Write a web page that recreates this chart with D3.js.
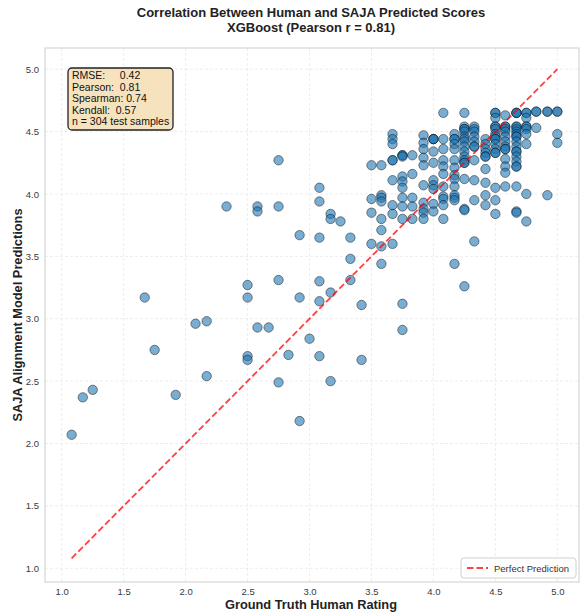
<!DOCTYPE html>
<html>
<head>
<meta charset="utf-8">
<script src="https://cdn.jsdelivr.net/npm/d3@7"></script>
<style>
  body { margin: 0; background: #fff; }
  svg { display: block; font-family: Arial, "Liberation Sans", sans-serif; }
</style>
</head>
<body>
<svg id="chart"></svg>
<script>
// ground truth rating levels (x) and the model predictions seen at each level (y)
const ratingLevels = [
  1.08, 1.17, 1.25, 1.67, 1.75, 1.92, 2.08, 2.17, 2.33, 2.50,
  2.58, 2.67, 2.75, 2.83, 2.92, 3.00, 3.08, 3.17, 3.25, 3.33,
  3.42, 3.50, 3.58, 3.67, 3.75, 3.83, 3.92, 4.00, 4.08, 4.17,
  4.25, 4.33, 4.42, 4.50, 4.58, 4.67, 4.75, 4.83, 4.92, 5.00
]
const predictions = [
  [2.07], [2.37], [2.43], [3.17], [2.75], [2.39], [2.96], [2.98, 2.54], [3.90],
  [3.27, 3.17, 2.70, 2.67],
  [3.90, 3.86, 2.93],
  [2.93],
  [4.27, 3.90, 3.31, 2.49],
  [2.71],
  [3.67, 3.17, 2.18],
  [2.84],
  [4.05, 3.94, 3.65, 3.30, 3.14, 2.70],
  [3.84, 3.80, 3.21, 2.50],
  [3.78],
  [3.65, 3.48, 3.31],
  [3.11, 2.67],
  [4.23, 3.96, 3.85, 3.60],
  [4.23, 3.99, 3.97, 3.94, 3.80, 3.71, 3.58, 3.44],
  [4.48, 4.44, 4.40, 4.27, 4.27, 4.11, 3.91, 3.84, 3.60],
  [4.31, 4.31, 4.30, 4.14, 4.10, 4.05, 3.97, 3.90, 3.80, 3.12, 2.91],
  [4.31, 4.16, 3.97, 3.90, 3.80],
  [4.47, 4.41, 4.36, 4.29, 4.23, 4.07, 3.93, 3.88, 3.85, 3.80],
  [4.44, 4.44, 4.44, 4.34, 4.25, 4.11, 4.07, 4.04, 3.92, 3.86],
  [4.65, 4.44, 4.36, 4.27, 4.22, 4.16, 4.06, 3.98, 3.96, 3.91, 3.80],
  [4.48, 4.44, 4.44, 4.40, 4.36, 4.27, 4.21, 4.15, 4.12, 4.06, 3.99, 3.97, 3.95, 3.44],
  [4.65, 4.54, 4.52, 4.52, 4.50, 4.46, 4.44, 4.42, 4.38, 4.34, 4.30, 4.27, 4.25, 4.25, 4.12, 3.88, 3.87, 3.26],
  [4.54, 4.52, 4.50, 4.46, 4.42, 4.38, 4.38, 4.27, 4.11, 3.95, 3.62],
  [4.44, 4.40, 4.36, 4.33, 4.30, 4.30, 4.20, 4.09, 3.99, 3.91],
  [4.65, 4.65, 4.61, 4.54, 4.54, 4.52, 4.48, 4.46, 4.44, 4.44, 4.40, 4.36, 4.33, 4.33, 4.05, 3.95, 3.84],
  [4.63, 4.54, 4.54, 4.52, 4.50, 4.46, 4.42, 4.38, 4.36, 4.36, 4.28, 4.22, 4.17, 4.06],
  [4.65, 4.65, 4.65, 4.54, 4.54, 4.52, 4.50, 4.48, 4.46, 4.46, 4.42, 4.38, 4.34, 4.34, 4.30, 4.26, 4.22, 4.22, 4.06, 3.86, 3.85],
  [4.65, 4.65, 4.61, 4.54, 4.54, 4.52, 4.48, 4.40, 4.00, 3.78],
  [4.66, 4.66, 4.53],
  [4.66, 4.66, 3.99],
  [4.66, 4.66, 4.48, 4.41]
]
const tickValues = [1.0, 1.5, 2.0, 2.5, 3.0, 3.5, 4.0, 4.5, 5.0]
const statLines = [
  'RMSE:     0.42',
  'Pearson:  0.81',
  'Spearman: 0.74',
  'Kendall:  0.57',
  'n = 304 test samples'
]
const perfectLine = [1.08, 5.0]

var width = 585
var height = 612
var margin = { top: 48, right: 6, bottom: 30, left: 45 }

var points = []
ratingLevels.forEach((x, i) => {
  predictions[i].forEach((y) => points.push({ x: x, y: y }))
})

var svg = d3.select('#chart').attr('width', width).attr('height', height)

var x = d3.scaleLinear().domain([0.865, 5.175]).range([margin.left, width - margin.right])
var y = d3.scaleLinear().domain([0.89, 5.17]).range([height - margin.bottom, margin.top])

// grid
svg
  .append('g')
  .selectAll('line')
  .data(tickValues)
  .join('line')
  .attr('x1', (d) => x(d))
  .attr('x2', (d) => x(d))
  .attr('y1', y.range()[1])
  .attr('y2', y.range()[0])
  .attr('stroke', '#e8e8e8')
  .attr('stroke-dasharray', '3,2')
  .attr('stroke-width', 0.8)

svg
  .append('g')
  .selectAll('line')
  .data(tickValues)
  .join('line')
  .attr('x1', x.range()[0])
  .attr('x2', x.range()[1])
  .attr('y1', (d) => y(d))
  .attr('y2', (d) => y(d))
  .attr('stroke', '#e8e8e8')
  .attr('stroke-dasharray', '3,2')
  .attr('stroke-width', 0.8)

// axes
var xAxis = svg
  .append('g')
  .attr('transform', `translate(0,${y.range()[0]})`)
  .call(d3.axisBottom(x).tickValues(tickValues).tickFormat(d3.format('.1f')).tickSize(0).tickPadding(6))
xAxis.select('.domain').remove()
xAxis.selectAll('text').attr('font-size', 9.5).attr('fill', '#3a3a3a').attr('font-family', 'Arial, "Liberation Sans", sans-serif')

var yAxis = svg
  .append('g')
  .attr('transform', `translate(${x.range()[0]},0)`)
  .call(d3.axisLeft(y).tickValues(tickValues).tickFormat(d3.format('.1f')).tickSize(0).tickPadding(6))
yAxis.select('.domain').remove()
yAxis.selectAll('text').attr('font-size', 9.5).attr('fill', '#3a3a3a').attr('font-family', 'Arial, "Liberation Sans", sans-serif')

// frame
svg
  .append('rect')
  .attr('x', x.range()[0])
  .attr('y', y.range()[1])
  .attr('width', x.range()[1] - x.range()[0])
  .attr('height', y.range()[0] - y.range()[1])
  .attr('fill', 'none')
  .attr('stroke', '#d6d6d6')
  .attr('stroke-width', 1.2)

// points
svg
  .append('g')
  .selectAll('circle')
  .data(points)
  .join('circle')
  .attr('cx', (d) => x(d.x))
  .attr('cy', (d) => y(d.y))
  .attr('r', 4.7)
  .attr('fill', '#1f77b4')
  .attr('fill-opacity', 0.6)
  .attr('stroke', '#000')
  .attr('stroke-opacity', 0.55)
  .attr('stroke-width', 0.8)

// perfect prediction line
svg
  .append('line')
  .attr('x1', x(perfectLine[0]))
  .attr('y1', y(perfectLine[0]))
  .attr('x2', x(perfectLine[1]))
  .attr('y2', y(perfectLine[1]))
  .attr('stroke', '#ff0000')
  .attr('stroke-opacity', 0.75)
  .attr('stroke-width', 1.8)
  .attr('stroke-dasharray', '6.5,3')

// stats box
var stats = svg.append('g').attr('transform', 'translate(68,68)')
stats
  .append('rect')
  .attr('width', 105)
  .attr('height', 62)
  .attr('rx', 4)
  .attr('fill', '#f5deb3')
  .attr('fill-opacity', 0.85)
  .attr('stroke', '#222')
  .attr('stroke-width', 1.3)
stats
  .append('g')
  .selectAll('text')
  .data(statLines)
  .join('text')
  .attr('x', 4)
  .attr('y', (d, i) => 11 + i * 11.6)
  .attr('font-size', 10.5)
  .attr('fill', '#111')
  .attr('xml:space', 'preserve')
  .style('white-space', 'pre')
  .text((d) => d)

// legend
var legend = svg.append('g').attr('transform', `translate(${x.range()[1] - 118},${y.range()[0] - 24})`)
legend
  .append('rect')
  .attr('width', 115)
  .attr('height', 20)
  .attr('rx', 3)
  .attr('fill', '#fff')
  .attr('fill-opacity', 0.85)
  .attr('stroke', '#d0d0d0')
legend
  .append('line')
  .attr('x1', 6)
  .attr('x2', 27)
  .attr('y1', 10)
  .attr('y2', 10)
  .attr('stroke', '#ff0000')
  .attr('stroke-opacity', 0.75)
  .attr('stroke-width', 1.8)
  .attr('stroke-dasharray', '6.5,3')
legend
  .append('text')
  .attr('x', 33)
  .attr('y', 13.5)
  .attr('font-size', 9.5)
  .attr('fill', '#333')
  .text('Perfect Prediction')

// titles
svg
  .append('g')
  .attr('font-size', 13)
  .attr('font-weight', 'bold')
  .attr('fill', '#222')
  .attr('text-anchor', 'middle')
  .selectAll('text')
  .data(['Correlation Between Human and SAJA Predicted Scores', 'XGBoost (Pearson r = 0.81)'])
  .join('text')
  .attr('x', 311)
  .attr('y', (d, i) => 17 + i * 14.5)
  .text((d) => d)

svg
  .append('text')
  .attr('x', 311)
  .attr('y', 609)
  .attr('text-anchor', 'middle')
  .attr('font-size', 12.8)
  .attr('font-weight', 'bold')
  .attr('fill', '#222')
  .text('Ground Truth Human Rating')

svg
  .append('text')
  .attr('transform', `translate(22,${(y.range()[0] + y.range()[1]) / 2}) rotate(-90)`)
  .attr('text-anchor', 'middle')
  .attr('font-size', 12.8)
  .attr('font-weight', 'bold')
  .attr('fill', '#222')
  .text('SAJA Alignment Model Predictions')
</script>
</body>
</html>
